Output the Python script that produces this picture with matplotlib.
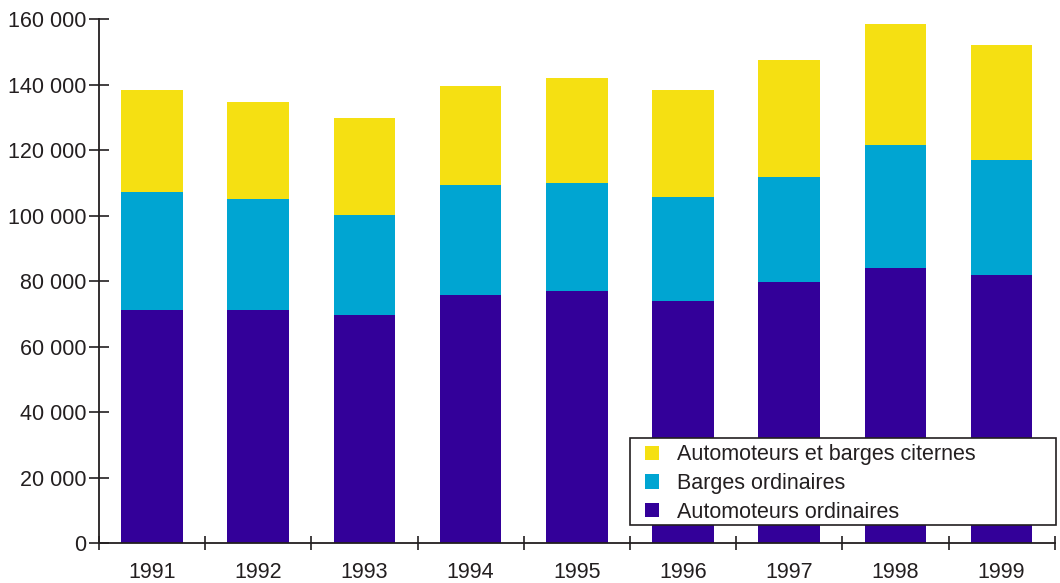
import matplotlib

matplotlib.use("Agg")
import matplotlib.pyplot as plt
from matplotlib.patches import Rectangle
from matplotlib.ticker import FuncFormatter, FixedLocator
import numpy as np

plt.rcParams["font.family"] = ["Liberation Sans", "DejaVu Sans"]

years = ["1991", "1992", "1993", "1994", "1995", "1996", "1997", "1998", "1999"]
automoteurs_ord = [71100, 71200, 69600, 75700, 76900, 73800, 79700, 84000, 81800]
barges_ord = [36100, 33800, 30500, 33600, 33000, 31800, 32100, 37500, 35100]
citernes = [31100, 29700, 29700, 30200, 32100, 32700, 35700, 37000, 35100]

series = [
    ("Automoteurs ordinaires", automoteurs_ord, "#330099"),
    ("Barges ordinaires", barges_ord, "#00A5D2"),
    ("Automoteurs et barges citernes", citernes, "#F5E012"),
]

INK = "#231f20"
FS = 15.5

fig = plt.figure(figsize=(10.6, 5.83), dpi=100)
ax = fig.add_axes([0.0934, 0.0686, 0.9016, 0.8988])

x = np.arange(len(years))
bottom = np.zeros(len(years))
handles = []
for label, vals, color in series:
    h = ax.bar(x, vals, width=0.58, bottom=bottom, color=color, label=label,
               edgecolor="none", zorder=2)
    handles.append(h)
    bottom += np.array(vals)

ax.set_xlim(-0.5, len(years) - 0.5)
ax.set_ylim(0, 160000)
ax.set_yticks(np.arange(0, 160001, 20000))
ax.yaxis.set_major_formatter(FuncFormatter(lambda v, p: f"{int(v):,}".replace(",", " ")))

ax.set_xticks(x)
ax.set_xticklabels(years)
ax.xaxis.set_minor_locator(FixedLocator(np.arange(-0.5, len(years), 1.0)))
ax.tick_params(axis="x", which="major", length=0, pad=14, labelsize=FS, colors=INK)
ax.tick_params(axis="x", which="minor", length=10, direction="inout", width=1.2, color=INK)
ax.tick_params(axis="y", length=14, direction="inout", width=1.2, pad=2, labelsize=FS,
               colors=INK)

for s in ["top", "right"]:
    ax.spines[s].set_visible(False)
for s in ["left", "bottom"]:
    ax.spines[s].set_linewidth(1.3)
    ax.spines[s].set_color(INK)

# legend: frame drawn separately so the box can be wider than its text
ax.add_patch(Rectangle((0.5554, 0.034), 0.4456, 0.166, transform=ax.transAxes,
                       facecolor="white", edgecolor=INK, linewidth=1.2,
                       zorder=4, clip_on=False))
leg = ax.legend(handles[::-1], [s[0] for s in series][::-1],
                loc="upper left", bbox_to_anchor=(0.5711, 0.188),
                fontsize=FS, frameon=False,
                handlelength=0.68, handleheight=0.68, handletextpad=0.8,
                labelspacing=0.35, borderpad=0, borderaxespad=0)
leg.set_zorder(5)
for t in leg.get_texts():
    t.set_color(INK)

fig.savefig("out.png", dpi=100, facecolor="white")
